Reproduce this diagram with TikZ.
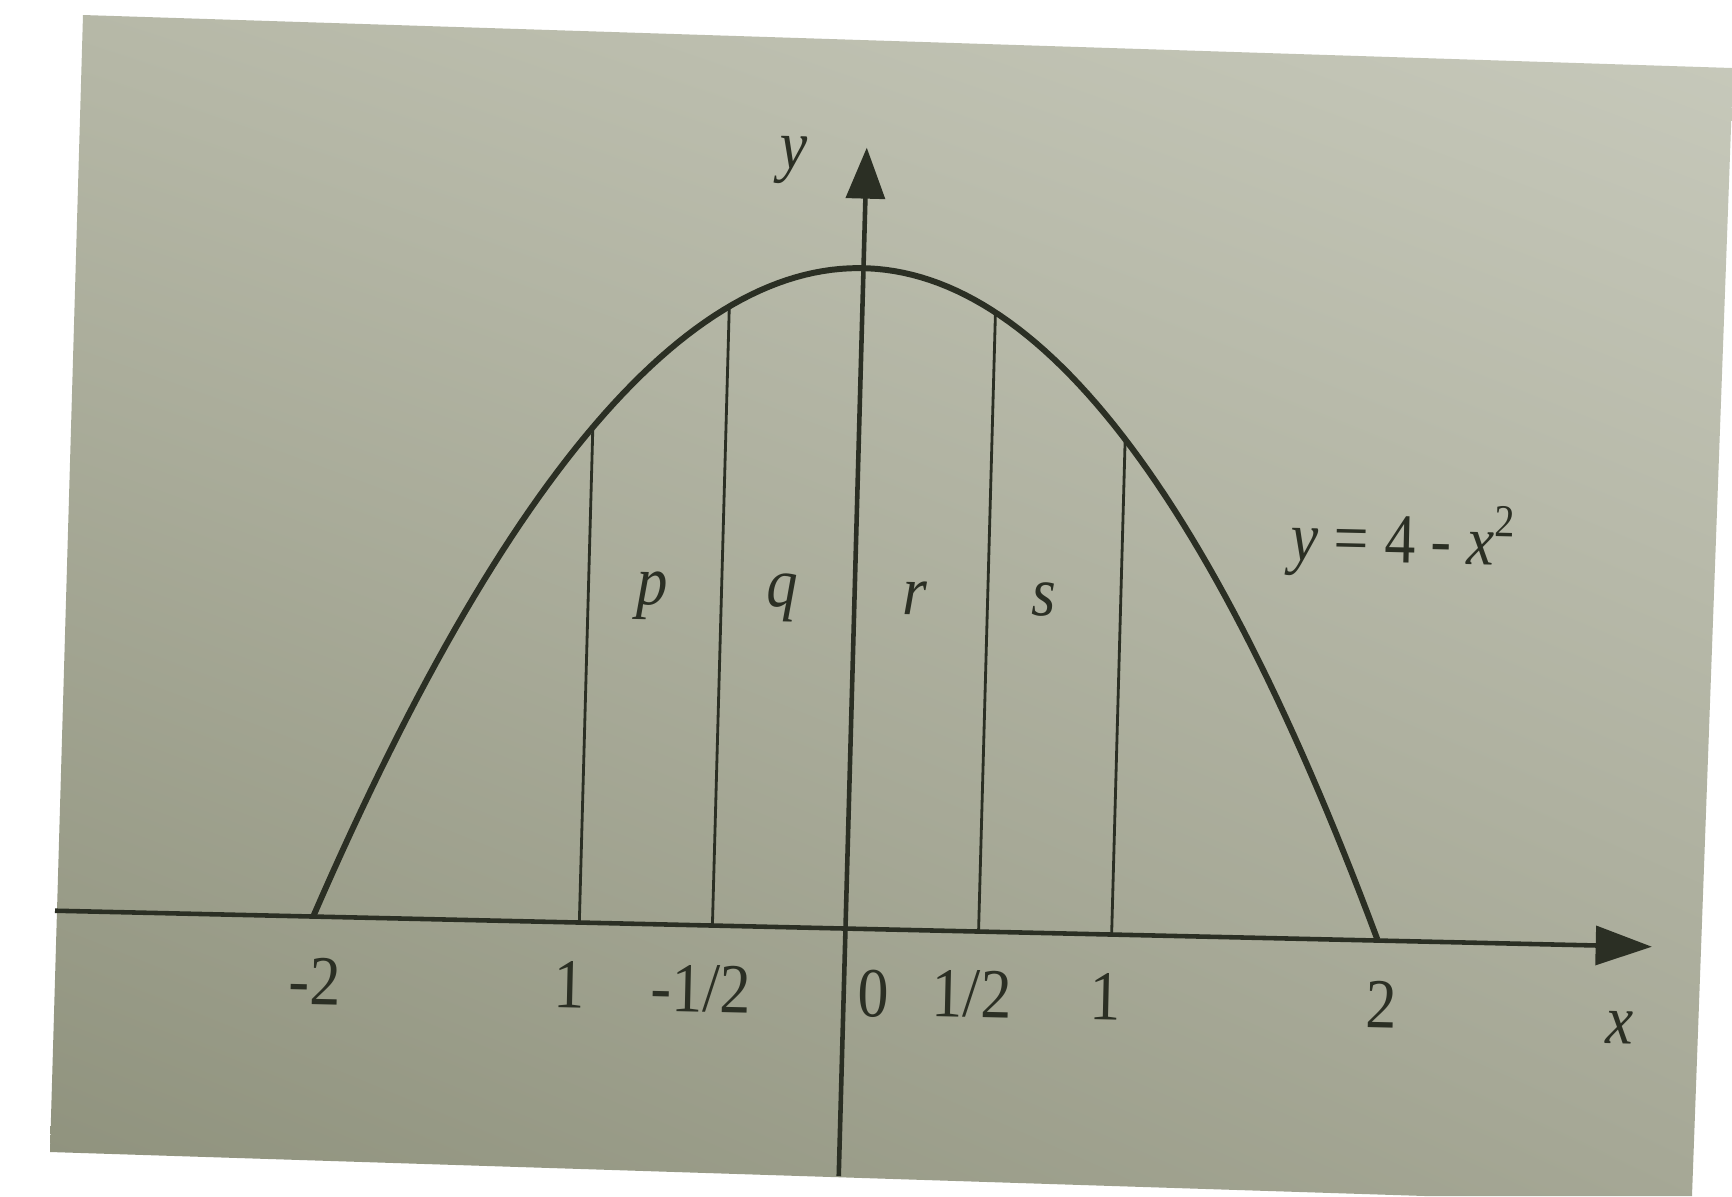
\documentclass[tikz,border=0pt]{standalone}
\usepackage{fontspec}
\setmainfont{Liberation Serif}
\usetikzlibrary{arrows.meta,shadings}
\definecolor{ink}{HTML}{2B2F24}
\definecolor{pUL}{HTML}{B6B8A7}
\definecolor{pUR}{HTML}{C8CABC}
\definecolor{pLL}{HTML}{8E917C}
\definecolor{pLR}{HTML}{A6A896}
\tikzset{
  curve/.style={ink, line width=1.7pt, line join=round},
  strip/.style={ink, line width=0.8pt},
  axis/.style={ink, line width=1.3pt},
  lbl/.style={ink, inner sep=0pt, rotate=-1.3, xscale=0.88, font=\fontsize{20}{22}\selectfont},
}
\begin{document}
\begin{tikzpicture}[x=0.01cm, y=-0.01cm]
\useasboundingbox (0,0) rectangle (1732,1196);
\fill[white] (0,0) rectangle (1732,1196);
\begin{scope}
  \clip (83,15) -- (1732,68) -- (1732,100) -- (1692,1196) -- (1425,1196) -- (50,1152) -- cycle;
  \shade[upper left=pUL, upper right=pUR, lower left=pLL, lower right=pLR] (0,0) rectangle (1732,1196);
\end{scope}
\begin{scope}[shift={(8.45cm,-9.28cm)}, x={(2.66cm,-0.06cm)}, y={(0.045cm,1.65cm)}]
  \coordinate (xl) at (-2.97,0);
  \coordinate (xr) at (3.03,0);
  \coordinate (yb) at (0,-1.5);
  \coordinate (yt) at (0,4.73);
  \draw[axis, -{Triangle[length=16pt,width=11pt]}] (xl) -- (xr);
  \draw[axis, -{Triangle[length=14.5pt,width=11pt]}] (yb) -- (yt);
  \foreach \u in {-1,-0.5,0.5,1}
    \draw[strip] (\u,0) -- (\u,{4-\u*\u});
  \draw[curve] plot[domain=-2:2, samples=120] (\x,{4-\x*\x});
\end{scope}
\node[lbl] (tm2) at (315,981) {-2};
\node[lbl] (tm1) at (569,985) {1};
\node[lbl] (tmh) at (701,989) {-1/2};
\node[lbl] (t0) at (873,994) {0};
\node[lbl] (tph) at (972,994) {1/2};
\node[lbl] (tp1) at (1105,997) {1};
\node[lbl] (tp2) at (1381,1005) {2};
\node[lbl] (xlab) at (1620,1028) {\textit{x}};
\node[lbl] (ylab) at (793,160) {\textit{y}};
\node[lbl] (p) at (652,596) {\textit{p}};
\node[lbl] (q) at (782,598) {\textit{q}};
\node[lbl] (r) at (915,598) {\textit{r}};
\node[lbl] (s) at (1044,600) {\textit{s}};
\node[lbl] (eq) at (1403,541) {\textit{y} = 4 - \textit{x}\raisebox{0.4em}{\fontsize{13}{14}\selectfont 2}};
\end{tikzpicture}
\end{document}
